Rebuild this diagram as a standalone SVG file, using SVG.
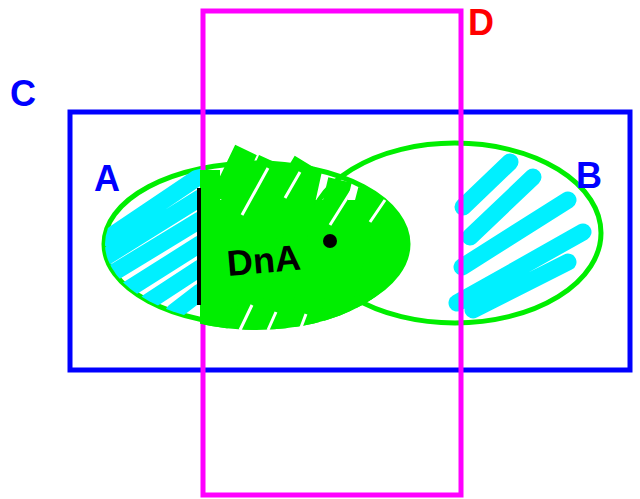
<svg xmlns="http://www.w3.org/2000/svg" width="640" height="499" viewBox="0 0 640 499">
<style>
.lbl{font-family:"Liberation Sans",sans-serif;font-weight:bold;font-size:36px}
.cy{stroke:#00f0ff;stroke-width:17;stroke-linecap:round;fill:none}
.gr{stroke:#00ee00;stroke-width:24;stroke-linecap:butt;fill:none}
.gap{stroke:#fff;stroke-width:3;fill:none}
</style>
<defs>
<clipPath id="clipA"><ellipse cx="256" cy="244" rx="151" ry="81"/></clipPath>
<clipPath id="clipA2"><ellipse cx="256" cy="244" rx="151" ry="86"/></clipPath>
<clipPath id="clipB"><ellipse cx="455" cy="233" rx="146" ry="90"/></clipPath>
<clipPath id="clipR"><rect x="200" y="140" width="215" height="195"/></clipPath>
</defs>
<rect width="640" height="499" fill="#fff"/>
<g id="C">
<rect x="70" y="112" width="560" height="258" fill="none" stroke="#0000ff" stroke-width="5"/>
<text class="lbl" x="10" y="106" fill="#0000ff">C</text>
</g>
<g id="B">
<ellipse cx="455" cy="233" rx="146" ry="90" fill="none" stroke="#00ee00" stroke-width="5"/>
<g clip-path="url(#clipB)">
<path class="cy" d="M463,207 L510,162 M470,237 L533,177 M462,267 L568,200 M457,303 L583,232 M473,310 L568,262"/>
</g>
<text class="lbl" x="576" y="188" fill="#0000ff">B</text>
</g>
<g id="A">
<ellipse cx="256" cy="244" rx="152" ry="81" fill="none" stroke="#00ee00" stroke-width="5"/>
<g clip-path="url(#clipA)">
<path class="cy" d="M108,238 L200,176 M104,258 L200,198 M108,276 L200,220 M124,292 L200,244 M148,302 L200,268 M174,312 L200,292"/>
</g>
<text class="lbl" x="94" y="191" fill="#0000ff">A</text>
</g>
<g id="D">
<rect x="203" y="11" width="258" height="484" fill="none" stroke="#ff00ff" stroke-width="5"/>
<text class="lbl" x="468" y="35" fill="#ff0000">D</text>
</g>
<g id="DNA">
<g clip-path="url(#clipR)">
<g clip-path="url(#clipA2)">
<rect x="200" y="200" width="215" height="135" fill="#00ee00"/>
<path class="gr" d="M215,330 L250,160 M245,330 L280,165 M275,330 L310,170 M305,330 L340,180 M335,325 L370,190 M365,320 L400,200 M390,320 L412,230"/>
</g>
<path class="gr" d="M222,200 L246,150 M252,200 L270,160 M282,200 L305,162"/>
<rect x="200" y="170" width="20" height="140" fill="#00ee00"/>
<path class="gap" d="M268,168 L242,215 M300,172 L285,198 M352,190 L330,225 M385,200 L370,222 M240,330 L252,305 M268,330 L276,312 M300,330 L306,314"/>
</g>
<line x1="199" y1="188" x2="199" y2="305" stroke="#000" stroke-width="4"/>
<text x="228" y="276" font-family="'Liberation Sans',sans-serif" font-weight="bold" font-size="36" fill="#000" transform="rotate(-5 228 276)">DnA</text>
<circle cx="330" cy="241" r="7" fill="#000"/>
</g>
</svg>
